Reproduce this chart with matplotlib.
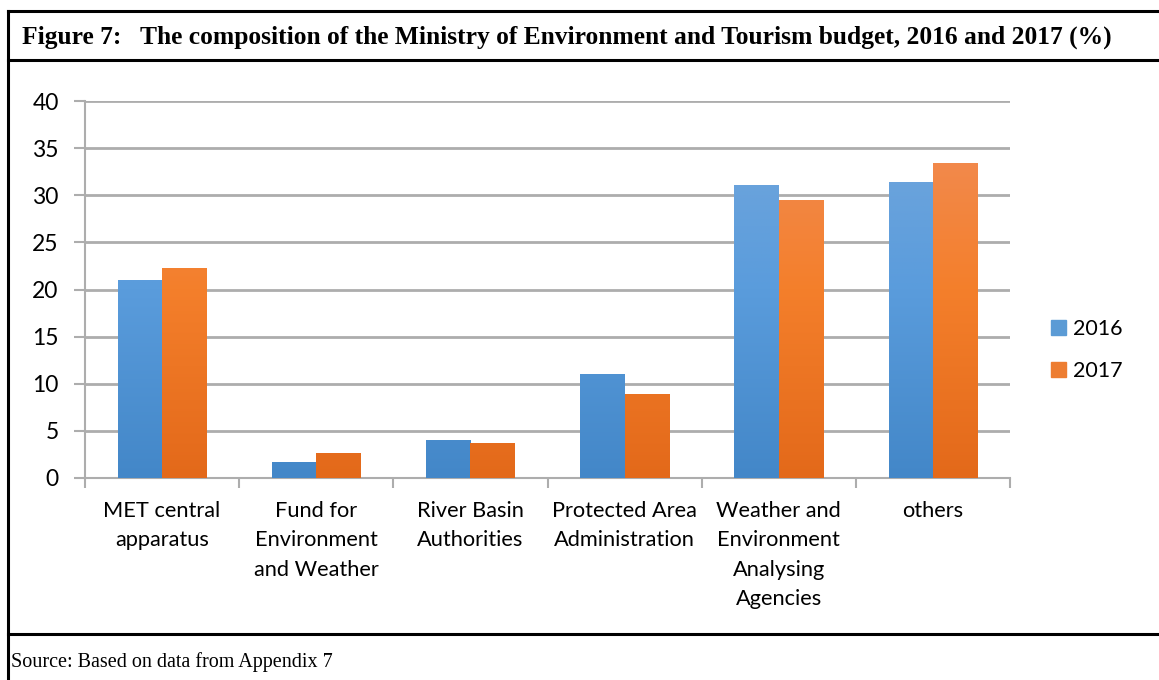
import numpy as np
import matplotlib.pyplot as plt
from matplotlib.colors import LinearSegmentedColormap
from matplotlib.lines import Line2D
from matplotlib.patches import Rectangle

categories = [
    "MET central\napparatus",
    "Fund for\nEnvironment\nand Weather",
    "River Basin\nAuthorities",
    "Protected Area\nAdministration",
    "Weather and\nEnvironment\nAnalysing\nAgencies",
    "others",
]
series_names = ["2016", "2017"]
values_2016 = [21.0, 1.7, 4.0, 11.0, 31.1, 31.4]
values_2017 = [22.3, 2.6, 3.7, 8.9, 29.5, 33.4]
y_ticks = [0, 5, 10, 15, 20, 25, 30, 35, 40]

title_text = "Figure 7:   The composition of the Ministry of Environment and Tourism budget, 2016 and 2017 (%)"
source_text = "Source: Based on data from Appendix 7"

W, H = 1159, 680
fig = plt.figure(figsize=(W / 100, H / 100), dpi=100)
fig.patch.set_facecolor("white")

# gradient fills (top -> bottom)
blue_cmap = LinearSegmentedColormap.from_list(
    "blue", ["#4387C8", "#5A9CDC", "#75A8DC"])
orange_cmap = LinearSegmentedColormap.from_list(
    "orange", ["#E3691A", "#F47F2B", "#F18E5B"])

ax = fig.add_axes([85 / W, 1 - 478 / H, 925 / W, 377 / H])
x = np.arange(len(categories))
bw = 0.288
grid_col = "#ADADAD"
label_font = "Lato"

bars_a = ax.bar(x - bw / 2, values_2016, width=bw, color="#5B9BD5", zorder=3, linewidth=0)
bars_b = ax.bar(x + bw / 2, values_2017, width=bw, color="#ED7D31", zorder=3, linewidth=0)

grad = np.linspace(0, 1, 256).reshape(-1, 1)
for bars, cmap in ((bars_a, blue_cmap), (bars_b, orange_cmap)):
    for b in bars:
        x0, w = b.get_x(), b.get_width()
        im = ax.imshow(grad, cmap=cmap, origin="lower", aspect="auto",
                       extent=(x0, x0 + w, 0, 40), zorder=4, interpolation="bilinear")
        im.set_clip_path(b)

ax.set_xlim(-0.5, len(categories) - 0.5)
ax.set_ylim(0, 40)
ax.set_yticks(y_ticks)
ax.set_yticklabels([str(t) for t in y_ticks], fontsize=16.5, family=label_font)
ax.yaxis.grid(True, color=grid_col, linewidth=2, zorder=0)
ax.set_axisbelow(True)

ax.set_xticks(np.arange(len(categories) + 1) - 0.5)
ax.set_xticklabels([])
ax.tick_params(axis="x", direction="out", length=7, width=1.5, color=grid_col)
ax.tick_params(axis="y", direction="out", length=8, width=1.5, color=grid_col, pad=11)
for side in ("top", "right"):
    ax.spines[side].set_visible(False)
for side in ("left", "bottom"):
    ax.spines[side].set_color(grid_col)
    ax.spines[side].set_linewidth(1.5)

for i, lab in enumerate(categories):
    ax.text(i, -2.4, lab, ha="center", va="top", fontsize=15.7, family=label_font,
            linespacing=1.6, transform=ax.transData, clip_on=False)

# legend
handles = [Rectangle((0, 0), 1, 1, color="#5B9BD5"), Rectangle((0, 0), 1, 1, color="#ED7D31")]
leg = fig.legend(handles, series_names, loc="center left",
                 bbox_to_anchor=(1032 / W, 1 - 350 / H), frameon=False,
                 prop={"family": label_font, "size": 15.5}, handlelength=0.7,
                 handleheight=0.7, handletextpad=0.3, labelspacing=1.05)

# frame of the figure box
lw = 2.2
fig.add_artist(Line2D([8 / W, 1.0], [1 - 11 / H] * 2, color="black", lw=lw))
fig.add_artist(Line2D([8 / W, 1.0], [1 - 60 / H] * 2, color="black", lw=lw))
fig.add_artist(Line2D([8 / W, 1.0], [1 - 634 / H] * 2, color="black", lw=lw))
fig.add_artist(Line2D([8 / W] * 2, [1 - 11 / H, 0.0], color="black", lw=lw))

fig.text(22 / W, 1 - 37 / H, title_text, ha="left", va="center",
         fontsize=18.4, fontweight="bold", family="Liberation Serif")
fig.text(11 / W, 1 - 662 / H, source_text, ha="left", va="center",
         fontsize=14.5, family="Liberation Serif")

fig.savefig("out.png", dpi=100)
